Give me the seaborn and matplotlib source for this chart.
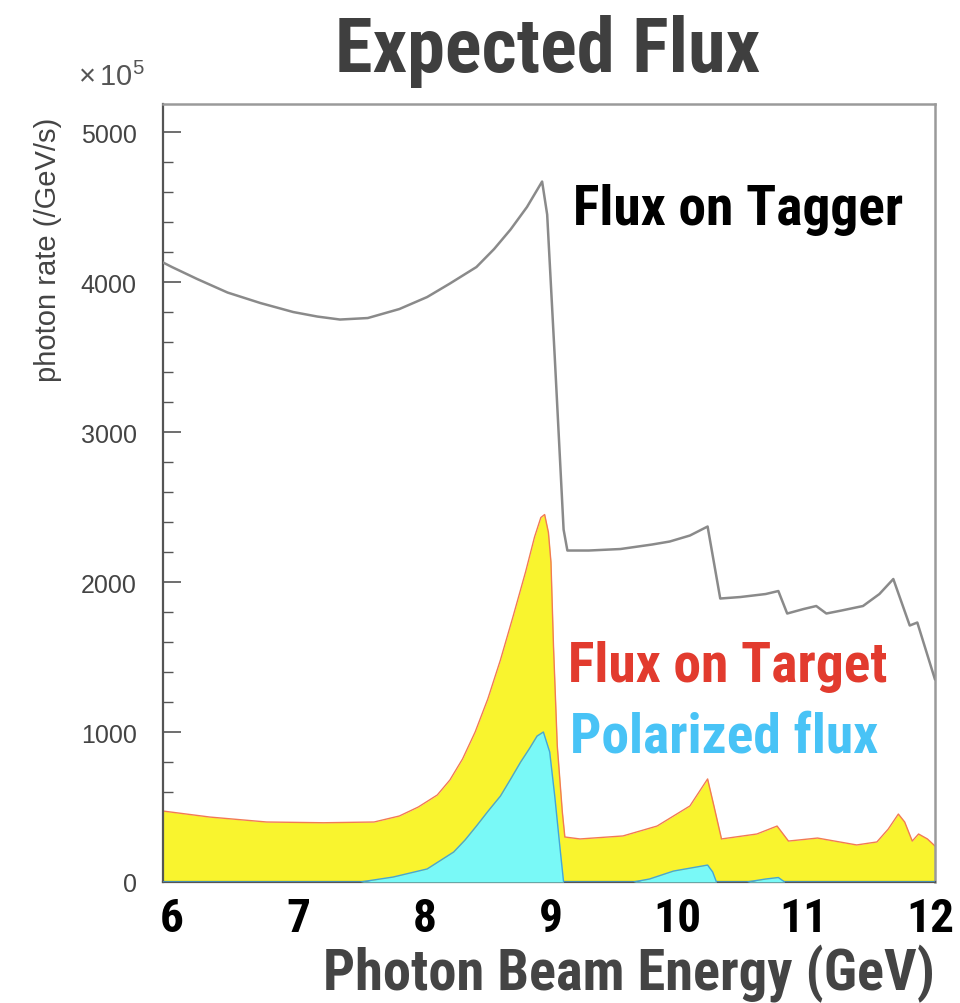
import numpy as np
import pandas as pd
import matplotlib
matplotlib.use("Agg")
import matplotlib.pyplot as plt
from matplotlib import font_manager as fm
from matplotlib.font_manager import FontProperties
from matplotlib.ticker import MultipleLocator
import seaborn as sns

# ---------------- data (units of 10^5 photons /GeV/s) ----------------
tagger_E = [5.93, 6.00, 6.20, 6.44, 6.70, 6.96, 7.15, 7.33, 7.55, 7.80, 8.02, 8.20,
            8.41, 8.55, 8.68, 8.81, 8.93, 8.97, 9.03, 9.10, 9.13, 9.30, 9.55, 9.80,
            9.94, 10.10, 10.24, 10.34, 10.50, 10.70, 10.80, 10.87, 11.00, 11.10,
            11.18, 11.30, 11.47, 11.60, 11.71, 11.84, 11.90, 12.04]
tagger_flux = [4130, 4100, 4020, 3930, 3860, 3800, 3770, 3750, 3760, 3820, 3900, 3990,
               4100, 4220, 4350, 4500, 4670, 4450, 3500, 2350, 2210, 2210, 2220, 2250,
               2270, 2310, 2370, 1890, 1900, 1920, 1940, 1790, 1820, 1840,
               1790, 1810, 1840, 1920, 2020, 1710, 1730, 1350]

target_E = [5.93, 6.30, 6.75, 7.20, 7.60, 7.80, 7.95, 8.10, 8.20, 8.30, 8.40, 8.50,
            8.60, 8.70, 8.80, 8.87, 8.92, 8.95, 8.98, 9.00, 9.02, 9.05, 9.09, 9.11,
            9.23, 9.57, 9.84, 10.10, 10.24, 10.29, 10.35, 10.63, 10.79, 10.88, 11.11,
            11.42, 11.58, 11.67, 11.75, 11.80, 11.86, 11.91, 11.98, 12.04]
target_flux = [473, 433, 400, 395, 400, 440, 500, 580, 680, 820, 1000, 1220,
               1480, 1770, 2070, 2300, 2430, 2450, 2330, 2133, 1573, 907, 467, 300,
               287, 307, 373, 507, 687, 507, 287, 320, 373, 273, 293,
               247, 267, 353, 453, 400, 273, 320, 287, 240]

pol_E = [5.93, 7.49, 7.75, 8.02, 8.10, 8.23, 8.32, 8.41, 8.50, 8.60, 8.68, 8.76,
         8.83, 8.89, 8.94, 8.99, 9.03, 9.07, 9.10, 9.65, 9.78, 9.97, 10.24, 10.28,
         10.31, 10.55, 10.70, 10.80, 10.85, 12.04]
pol_flux = [0, 0, 33, 87, 130, 200, 280, 373, 470, 573, 685, 800,
            890, 973, 1000, 867, 573, 240, 0, 0, 20, 73, 113, 67,
            0, 0, 20, 30, 0, 0]

x_ticks = [6, 7, 8, 9, 10, 11, 12]
x_tick_labels = ["6", "7", "8", "9", "10", "11", "12"]
y_ticks = [0, 1000, 2000, 3000, 4000, 5000]
y_tick_labels = ["0", "1000", "2000", "3000", "4000", "5000"]

# ---------------- style ----------------
sns.set_theme(style="white")
plt.rcParams["font.family"] = ["Liberation Sans", "DejaVu Sans"]
plt.rcParams["mathtext.default"] = "regular"


def find_condensed_bold():
    best, best_score = None, None
    for f in fm.fontManager.ttflist:
        name = f.name
        st = f.stretch
        cond = ("Narrow" in name or "Condensed" in name or "Cond" in name
                or (isinstance(st, str) and "condensed" in st)
                or (isinstance(st, (int, float)) and st < 500))
        if not cond or f.style != "normal":
            continue
        w = f.weight
        wn = w if isinstance(w, (int, float)) else fm.weight_dict.get(w, 400)
        score = -abs(wn - 700)
        if "Liberation" in name or "Roboto" in name:
            score += 50
        if best_score is None or score > best_score:
            best, best_score = f.fname, score
    return best


COND_FILE = find_condensed_bold()


def narrow_fp(size):
    if COND_FILE:
        return FontProperties(fname=COND_FILE, size=size)
    return FontProperties(family=["Liberation Sans", "DejaVu Sans"], weight="bold", size=size)


W, H = 960, 1004
fig = plt.figure(figsize=(W / 100, H / 100), dpi=100)
fig.patch.set_facecolor("white")
ax = fig.add_axes([163 / W, 1 - 883 / H, (935 - 163) / W, (883 - 105) / H])
ax.set_facecolor("white")

df_t = pd.DataFrame({"E": tagger_E, "flux": tagger_flux})
df_y = pd.DataFrame({"E": target_E, "flux": target_flux})
df_p = pd.DataFrame({"E": pol_E, "flux": pol_flux})

# Flux on target (yellow)
ax.fill_between(df_y["E"], 0, df_y["flux"], color="#f9f42e", linewidth=0, zorder=1)
sns.lineplot(data=df_y, x="E", y="flux", ax=ax, color="#f27a55", linewidth=1.0,
             sort=False, estimator=None, zorder=2)
# Polarized flux (cyan)
ax.fill_between(df_p["E"], 0, df_p["flux"], color="#79f9f7", linewidth=0, zorder=3)
sns.lineplot(data=df_p, x="E", y="flux", ax=ax, color="#45a6d6", linewidth=1.0,
             sort=False, estimator=None, zorder=4)
# Flux on tagger (grey line)
sns.lineplot(data=df_t, x="E", y="flux", ax=ax, color="#8a8a8a", linewidth=1.8,
             sort=False, estimator=None, zorder=5)

ax.set_xlim(5.929, 12.04)
ax.set_ylim(0, 5187)
ax.set_xlabel("")
ax.set_ylabel("")

ax.set_xticks(x_ticks)
xtl = ax.set_xticklabels(x_tick_labels, color="black")
for t in xtl:
    t.set_fontproperties(narrow_fp(35))
ax.set_yticks(y_ticks)
ax.set_yticklabels(y_tick_labels, fontsize=18, color="#444444")
ax.xaxis.set_minor_locator(MultipleLocator(0.2))
ax.yaxis.set_minor_locator(MultipleLocator(200))
ax.tick_params(axis="both", which="both", direction="in", colors="#555555",
               bottom=True, left=True, top=False, right=False)
ax.tick_params(axis="x", which="major", length=13, width=1.2, pad=10, labelcolor="black")
ax.tick_params(axis="x", which="minor", length=6, width=1.0)
ax.tick_params(axis="y", which="major", length=13, width=1.2, pad=19, labelcolor="#444444")
ax.tick_params(axis="y", which="minor", length=7, width=1.0)

for side in ["left", "bottom"]:
    ax.spines[side].set_color("#555555")
    ax.spines[side].set_linewidth(1.6)
for side in ["top", "right"]:
    ax.spines[side].set_color("#9a9a9a")
    ax.spines[side].set_linewidth(1.8)
    ax.spines[side].set_visible(True)

# ---------------- labels ----------------
t_tag = ax.text(9.174, 4387, "Flux on Tagger", color="black", ha="left", va="baseline",
                fontproperties=narrow_fp(40))
t_tgt = ax.text(9.135, 1340, "Flux on Target", color="#e23b2e", ha="left", va="baseline",
                fontproperties=narrow_fp(40))
t_pol = ax.text(9.15, 873, "Polarized flux", color="#48c3f6", ha="left", va="baseline",
                fontproperties=narrow_fp(40))

t_title = fig.text(548 / W, 1 - 72 / H, "Expected Flux", color="#3f3f3f",
                   ha="center", va="baseline", fontproperties=narrow_fp(55))
t_xlab = fig.text(935 / W, 1 - 990 / H, "Photon Beam Energy (GeV)", color="#444444",
                  ha="right", va="baseline", fontproperties=narrow_fp(41))
fig.text(48 / W, 1 - 250 / H, "photon rate (/GeV/s)", fontsize=21, color="#444444",
         rotation=90, ha="center", va="center")
fig.text(78 / W, 1 - 86 / H, r"$\times\,10^{5}$", fontsize=21, color="#555555",
         ha="left", va="baseline")

# shrink narrow texts to the widths they have in the reference
fig.canvas.draw()
renderer = fig.canvas.get_renderer()


def fit(texts, ref_text, target_px):
    bb = ref_text.get_window_extent(renderer)
    s = target_px / bb.width
    if s < 1.0:
        for t in texts:
            t.set_fontsize(t.get_fontsize() * s)


fit([t_tag], t_tag, 330)
fit([t_tgt], t_tgt, 322)
fit([t_pol], t_pol, 310)
fit([t_title], t_title, 427)
fit([t_xlab], t_xlab, 613)
fit(list(xtl), xtl[4], 48)

fig.savefig("out.png", dpi=100, facecolor="white")
